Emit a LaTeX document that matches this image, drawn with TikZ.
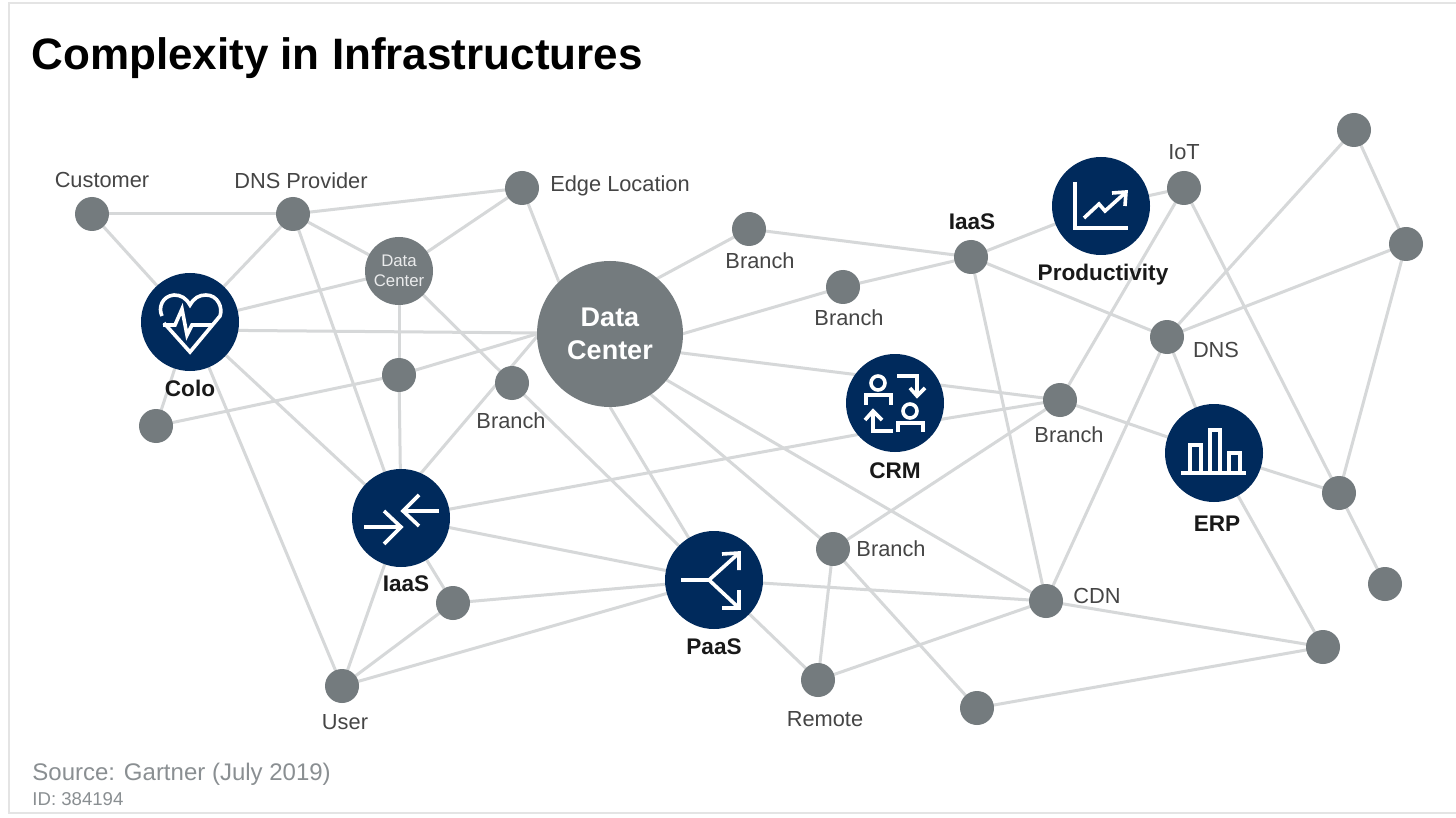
\documentclass[tikz,border=0pt]{standalone}
\usepackage{fontspec}
\setmainfont{Liberation Sans}
\usetikzlibrary{backgrounds}
\definecolor{navy}{HTML}{002A5C}
\definecolor{gnode}{HTML}{747B7E}
\definecolor{edgec}{HTML}{D6D8D9}
\definecolor{frame}{HTML}{E4E4E4}
\definecolor{lab}{HTML}{454545}
\definecolor{srcc}{HTML}{8A8F92}
\newcommand{\fs}[1]{\fontsize{#1}{#1}\selectfont}
\tikzset{
  dot/.style={circle,fill=gnode,inner sep=0pt,minimum size=17pt},
  hub/.style={circle,fill=navy,inner sep=0pt,minimum size=49pt},
  lbl/.style={text=lab,inner sep=0pt,font=\fs{10.9}},
  blbl/.style={text=black!90,inner sep=0pt,font=\fs{11.3}\bfseries},
  link/.style={draw=edgec,line width=1.5pt},
  ic/.style={draw=white,line width=1.8pt,line cap=butt,line join=miter},
}
\begin{document}
\begin{tikzpicture}[x=0.5pt,y=-0.5pt]
\useasboundingbox (0,0) rectangle (1456,818);
\coordinate (frameTL) at (9,3);
\coordinate (frameTR) at (1456,3);
\coordinate (frameBL) at (9,813);
\coordinate (frameBR) at (1456,813);
\node[dot] (cust) at (92,214) {};
\node[dot] (dns) at (293,214) {};
\node[dot] (edge) at (522,188) {};
\node[circle,fill=gnode,inner sep=0pt,minimum size=34pt] (dcs) at (399,271) {};
\node[hub] (colo) at (190,322) {};
\node[dot] (na) at (399,375) {};
\node[dot] (nb) at (156,426) {};
\node[dot] (bra) at (512,383) {};
\node[circle,fill=gnode,inner sep=0pt,minimum size=73pt] (dc) at (610,334) {};
\node[hub] (iaasl) at (401,518) {};
\node[dot] (nc) at (453,603) {};
\node[dot] (user) at (342,686) {};
\node[hub] (paas) at (714,580) {};
\node[dot] (brb) at (749,229) {};
\node[dot] (brc) at (843,287) {};
\node[dot] (iaasr) at (971,257) {};
\node[hub] (prod) at (1101,206) {};
\node[dot] (iot) at (1184,188) {};
\node[dot] (dnsr) at (1167,337) {};
\node[hub] (crm) at (895,403) {};
\node[dot] (brd) at (1060,400) {};
\node[hub] (erp) at (1214,453) {};
\node[dot] (bre) at (833,549) {};
\node[dot] (cdn) at (1046,601) {};
\node[dot] (remote) at (818,680) {};
\node[dot] (nd) at (977,708) {};
\node[dot] (ne) at (1323,647) {};
\node[dot] (nf) at (1339,493) {};
\node[dot] (ng) at (1385,584) {};
\node[dot] (nh) at (1354,130) {};
\node[dot] (ni) at (1406,244) {};
% hidden attachment points, inside the circles
\coordinate (dcin) at (650,349);
\coordinate (crmout) at (943,419);
\coordinate (dcL) at (540,333);
\coordinate (coloin) at (190,330);
\coordinate (iaasin) at (405,492);
\coordinate (dcpaas) at (610,407);
\coordinate (dcbre) at (610,360);
\coordinate (dccdn) at (610,347);
\coordinate (dcbrc) at (610,355);
\coordinate (dcbrb) at (610,304);
\coordinate (dcedge) at (566,300);
\begin{scope}[on background layer]
\fill[white] (0,0) rectangle (1456,818);
\draw[frame,line width=1pt] (frameTR) -- (frameTL) -- (frameBL) -- (frameBR);
\foreach \a/\b in {cust/dns,cust/colo,dns/edge,dns/colo,dns/dcs,dns/iaasl,edge/dcs,edge/dcedge,
  colo/dcs,coloin/dcL,colo/nb,colo/iaasl,colo/user,dcs/na,dcs/bra,bra/paas,na/iaasl,nb/na,na/dcL,
  dcL/iaasin,dcbrb/brb,dcbrc/brc,brc/iaasr,brb/iaasr,iaasr/prod,prod/iot,iaasr/dnsr,iaasr/cdn,iot/brd,iot/nf,
  dnsr/nh,dnsr/ni,dnsr/erp,dnsr/cdn,nh/ni,ni/nf,nf/erp,nf/ng,erp/ne,brd/erp,brd/bre,
  dcpaas/paas,dcbre/bre,dccdn/cdn,iaasl/paas,iaasl/nc,nc/paas,nc/user,user/paas,iaasl/user,
  paas/cdn,paas/remote,bre/remote,bre/nd,remote/cdn,cdn/ne,nd/ne,dcin/brd,iaasl/crmout,crmout/brd}
  {\draw[link] (\a.center) -- (\b.center);}
\end{scope}
% icons
\begin{scope}[shift={(colo.center)}]
 \draw[ic] (-28,-6) .. controls (-32,-14) and (-28,-26) .. (-16,-27) .. controls (-9,-27) and (-4,-24) .. (0,-17)
   .. controls (4,-24) and (9,-27) .. (16,-27) .. controls (28,-27) and (33,-14) .. (30,-6) -- (0,30) -- (-26,1);
 \draw[ic] (-27,3) -- (-15,3) -- (-8,-13) -- (-3,13) -- (2,3) -- (22,3);
\end{scope}
\begin{scope}[shift={(iaasl.center)}]
 \draw[ic] (-37,9) -- (-1,9); \draw[ic] (-17,-7) -- (0,9) -- (-17,26);
 \draw[ic] (38,-7) -- (3,-7); \draw[ic] (18,-23) -- (2,-7) -- (18,8);
\end{scope}
\begin{scope}[shift={(paas.center)}]
 \draw[ic] (-33,0) -- (-5,0) -- (25,-27); \draw[ic] (-5,0) -- (25,28);
 \draw[ic] (8,-26) -- (25,-27) -- (25,-10); \draw[ic] (8,28) -- (25,28) -- (25,10);
\end{scope}
\begin{scope}[shift={(prod.center)}]
 \draw[ic] (-26,-24) -- (-26,22) -- (27,22);
 \draw[ic] (-17,12) -- (-2,-2) -- (4,5) -- (24,-13);
 \draw[ic] (11,-13) -- (25,-14) -- (24,0);
\end{scope}
\begin{scope}[shift={(crm.center)}]
 \draw[ic] (-17,-20) circle[radius=7];
 \draw[ic] (-29,2) -- (-29,-8) -- (-4,-8) -- (-4,2);
 \draw[ic] (2,-27) -- (22,-27) -- (22,-8); \draw[ic] (15,-15) -- (22,-7) -- (30,-15);
 \draw[ic] (15,8) circle[radius=7];
 \draw[ic] (3,29) -- (3,20) -- (28,20) -- (28,29);
 \draw[ic] (-2,28) -- (-22,28) -- (-22,8); \draw[ic] (-30,17) -- (-22,8) -- (-13,17);
\end{scope}
\begin{scope}[shift={(erp.center)}]
 \draw[ic] (-33,20) -- (32,20);
 \draw[ic] (-24,20) -- (-24,-8) -- (-13,-8) -- (-13,20);
 \draw[ic] (-4,20) -- (-4,-23) -- (6,-23) -- (6,20);
 \draw[ic] (15,20) -- (15,0) -- (26,0) -- (26,20);
\end{scope}
% texts
\node[inner sep=0pt,anchor=west,text=black,font=\fs{22}\bfseries] (title) at (31,58) {Complexity in Infrastructures};
\node[lbl] (tcust) at (102,180) {Customer};
\node[lbl] (tdns) at (301,181) {DNS Provider};
\node[lbl] (tedge) at (620,186) {Edge Location};
\node[inner sep=0pt,text=white!85!gnode,align=center,font=\fs{8.4}] (tdcs) at (399,271) {Data\\[1.5pt]Center};
\node[inner sep=0pt,text=white,align=center,font=\fs{13.5}\bfseries] (tdc) at (610,334) {Data\\[3pt]Center};
\node[blbl] (tcolo) at (190,388) {Colo};
\node[lbl] (tbra) at (511,421) {Branch};
\node[blbl] (tiaasl) at (406,584) {IaaS};
\node[lbl] (tuser) at (345,722) {User};
\node[blbl] (tpaas) at (714,647) {PaaS};
\node[lbl] (tbrb) at (760,261) {Branch};
\node[lbl] (tbrc) at (849,318) {Branch};
\node[blbl] (tiaasr) at (972,222) {IaaS};
\node[lbl] (tiot) at (1184,152) {IoT};
\node[blbl] (tprod) at (1103,275) {Productivity};
\node[lbl] (tdnsr) at (1216,350) {DNS};
\node[blbl] (tcrm) at (895,471) {CRM};
\node[lbl] (tbrd) at (1069,435) {Branch};
\node[blbl] (terp) at (1217,524) {ERP};
\node[lbl] (tbre) at (891,549) {Branch};
\node[lbl] (tcdn) at (1097,596) {CDN};
\node[lbl] (tremote) at (825,719) {Remote};
\node[inner sep=0pt,anchor=west,text=srcc,font=\fs{12}] (tsrc) at (32,774) {Source: Gartner (July 2019)};
\node[inner sep=0pt,anchor=west,text=srcc,font=\fs{9.3}] (tid) at (32,799) {ID: 384194};
\end{tikzpicture}
\end{document}
